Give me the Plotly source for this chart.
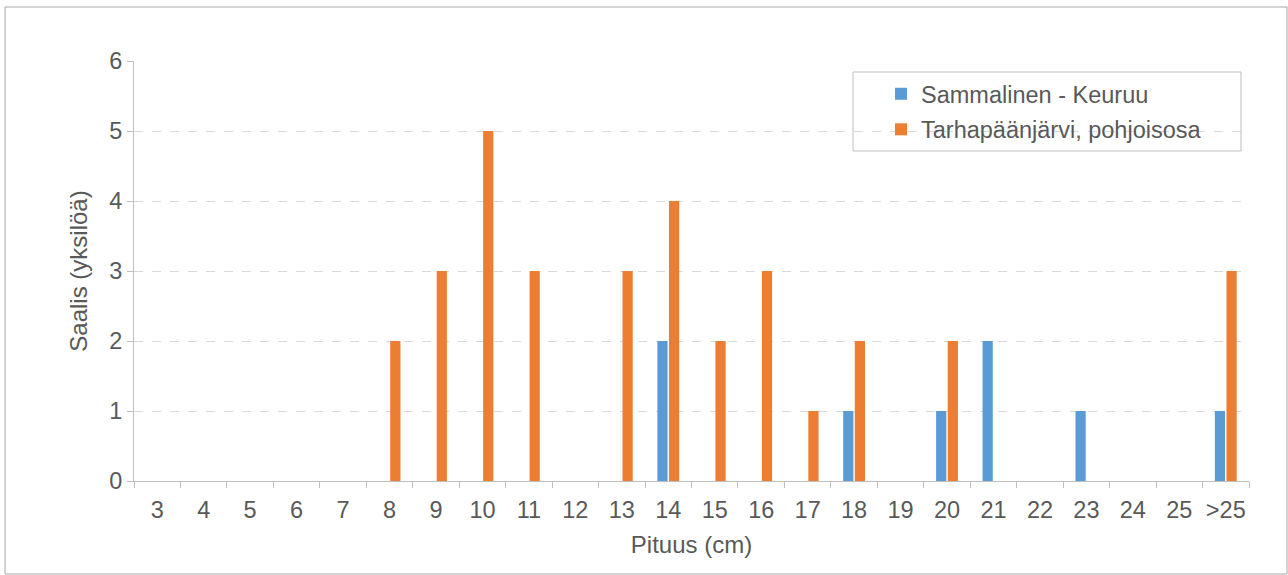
import plotly.graph_objects as go

categories = ["3", "4", "5", "6", "7", "8", "9", "10", "11", "12", "13", "14", "15",
              "16", "17", "18", "19", "20", "21", "22", "23", "24", "25", ">25"]
sammalinen = [0, 0, 0, 0, 0, 0, 0, 0, 0, 0, 0, 2, 0, 0, 0, 1, 0, 1, 2, 0, 1, 0, 0, 1]
tarhapaa = [0, 0, 0, 0, 0, 2, 3, 5, 3, 0, 3, 4, 2, 3, 1, 2, 0, 2, 0, 0, 0, 0, 0, 3]
series_names = ["Sammalinen - Keuruu", "Tarhapäänjärvi, pohjoisosa"]
y_ticks = [0, 1, 2, 3, 4, 5, 6]

FONT = "Liberation Sans, Arial, sans-serif"
TXT = "#595959"
GRAY = "#bfbfbf"
FS = 23.5

fig = go.Figure()
fig.add_trace(go.Bar(x=categories, y=sammalinen, name=series_names[0],
                     marker=dict(color="#5B9BD5", line=dict(width=0)), legendgroup="a"))
fig.add_trace(go.Bar(x=categories, y=tarhapaa, name=series_names[1],
                     marker=dict(color="#ED7D31", line=dict(width=0)), legendgroup="b"))

L, R, T, B = 134, 1249, 61, 481
W, H = R - L, B - T

def px(x):
    return (x - L) / W

def py(y):
    return (B - y) / H

fig.update_layout(
    width=1288, height=575,
    margin=dict(l=L, r=1288 - R, t=T, b=575 - B, autoexpand=False),
    paper_bgcolor="white", plot_bgcolor="white",
    font=dict(family=FONT, color=TXT, size=FS),
    barmode="group", bargap=0.5, bargroupgap=0.12,
    showlegend=True,
    legend=dict(x=px(881), y=py(72), xanchor="left", yanchor="top",
                bgcolor="rgba(0,0,0,0)", borderwidth=0, tracegroupgap=2,
                font=dict(family=FONT, color=TXT, size=FS), itemwidth=30),
    xaxis=dict(type="category", showline=True, linecolor=GRAY, linewidth=1,
               ticks="outside", ticklen=6, tickcolor=GRAY, tickson="boundaries",
               showgrid=False, tickfont=dict(size=FS, color=TXT), ticklabelstandoff=8,
               tickangle=0,
               title=dict(text="Pituus (cm)", font=dict(size=FS + 0.5, color=TXT), standoff=13)),
    yaxis=dict(range=[0, 6], tickvals=y_ticks, showline=True, linecolor=GRAY, linewidth=1,
               ticks="outside", ticklen=6, tickcolor=GRAY, zeroline=False,
               showgrid=True, gridcolor="#d9d9d9", griddash="dash", gridwidth=1,
               tickfont=dict(size=FS, color=TXT),
               title=dict(text="Saalis (yksilöä)", font=dict(size=FS + 0.5, color=TXT), standoff=14)),
    shapes=[
        dict(type="rect", xref="paper", yref="paper", x0=px(5), x1=px(1287), y0=py(574), y1=py(7),
             line=dict(color="#a8a8a8", width=1), fillcolor="rgba(0,0,0,0)", layer="below"),
        dict(type="rect", xref="paper", yref="paper", x0=px(853), x1=px(1241), y0=py(151), y1=py(72),
             line=dict(color=GRAY, width=1), fillcolor="rgba(0,0,0,0)"),
    ],
)

fig.write_html("out.html")
